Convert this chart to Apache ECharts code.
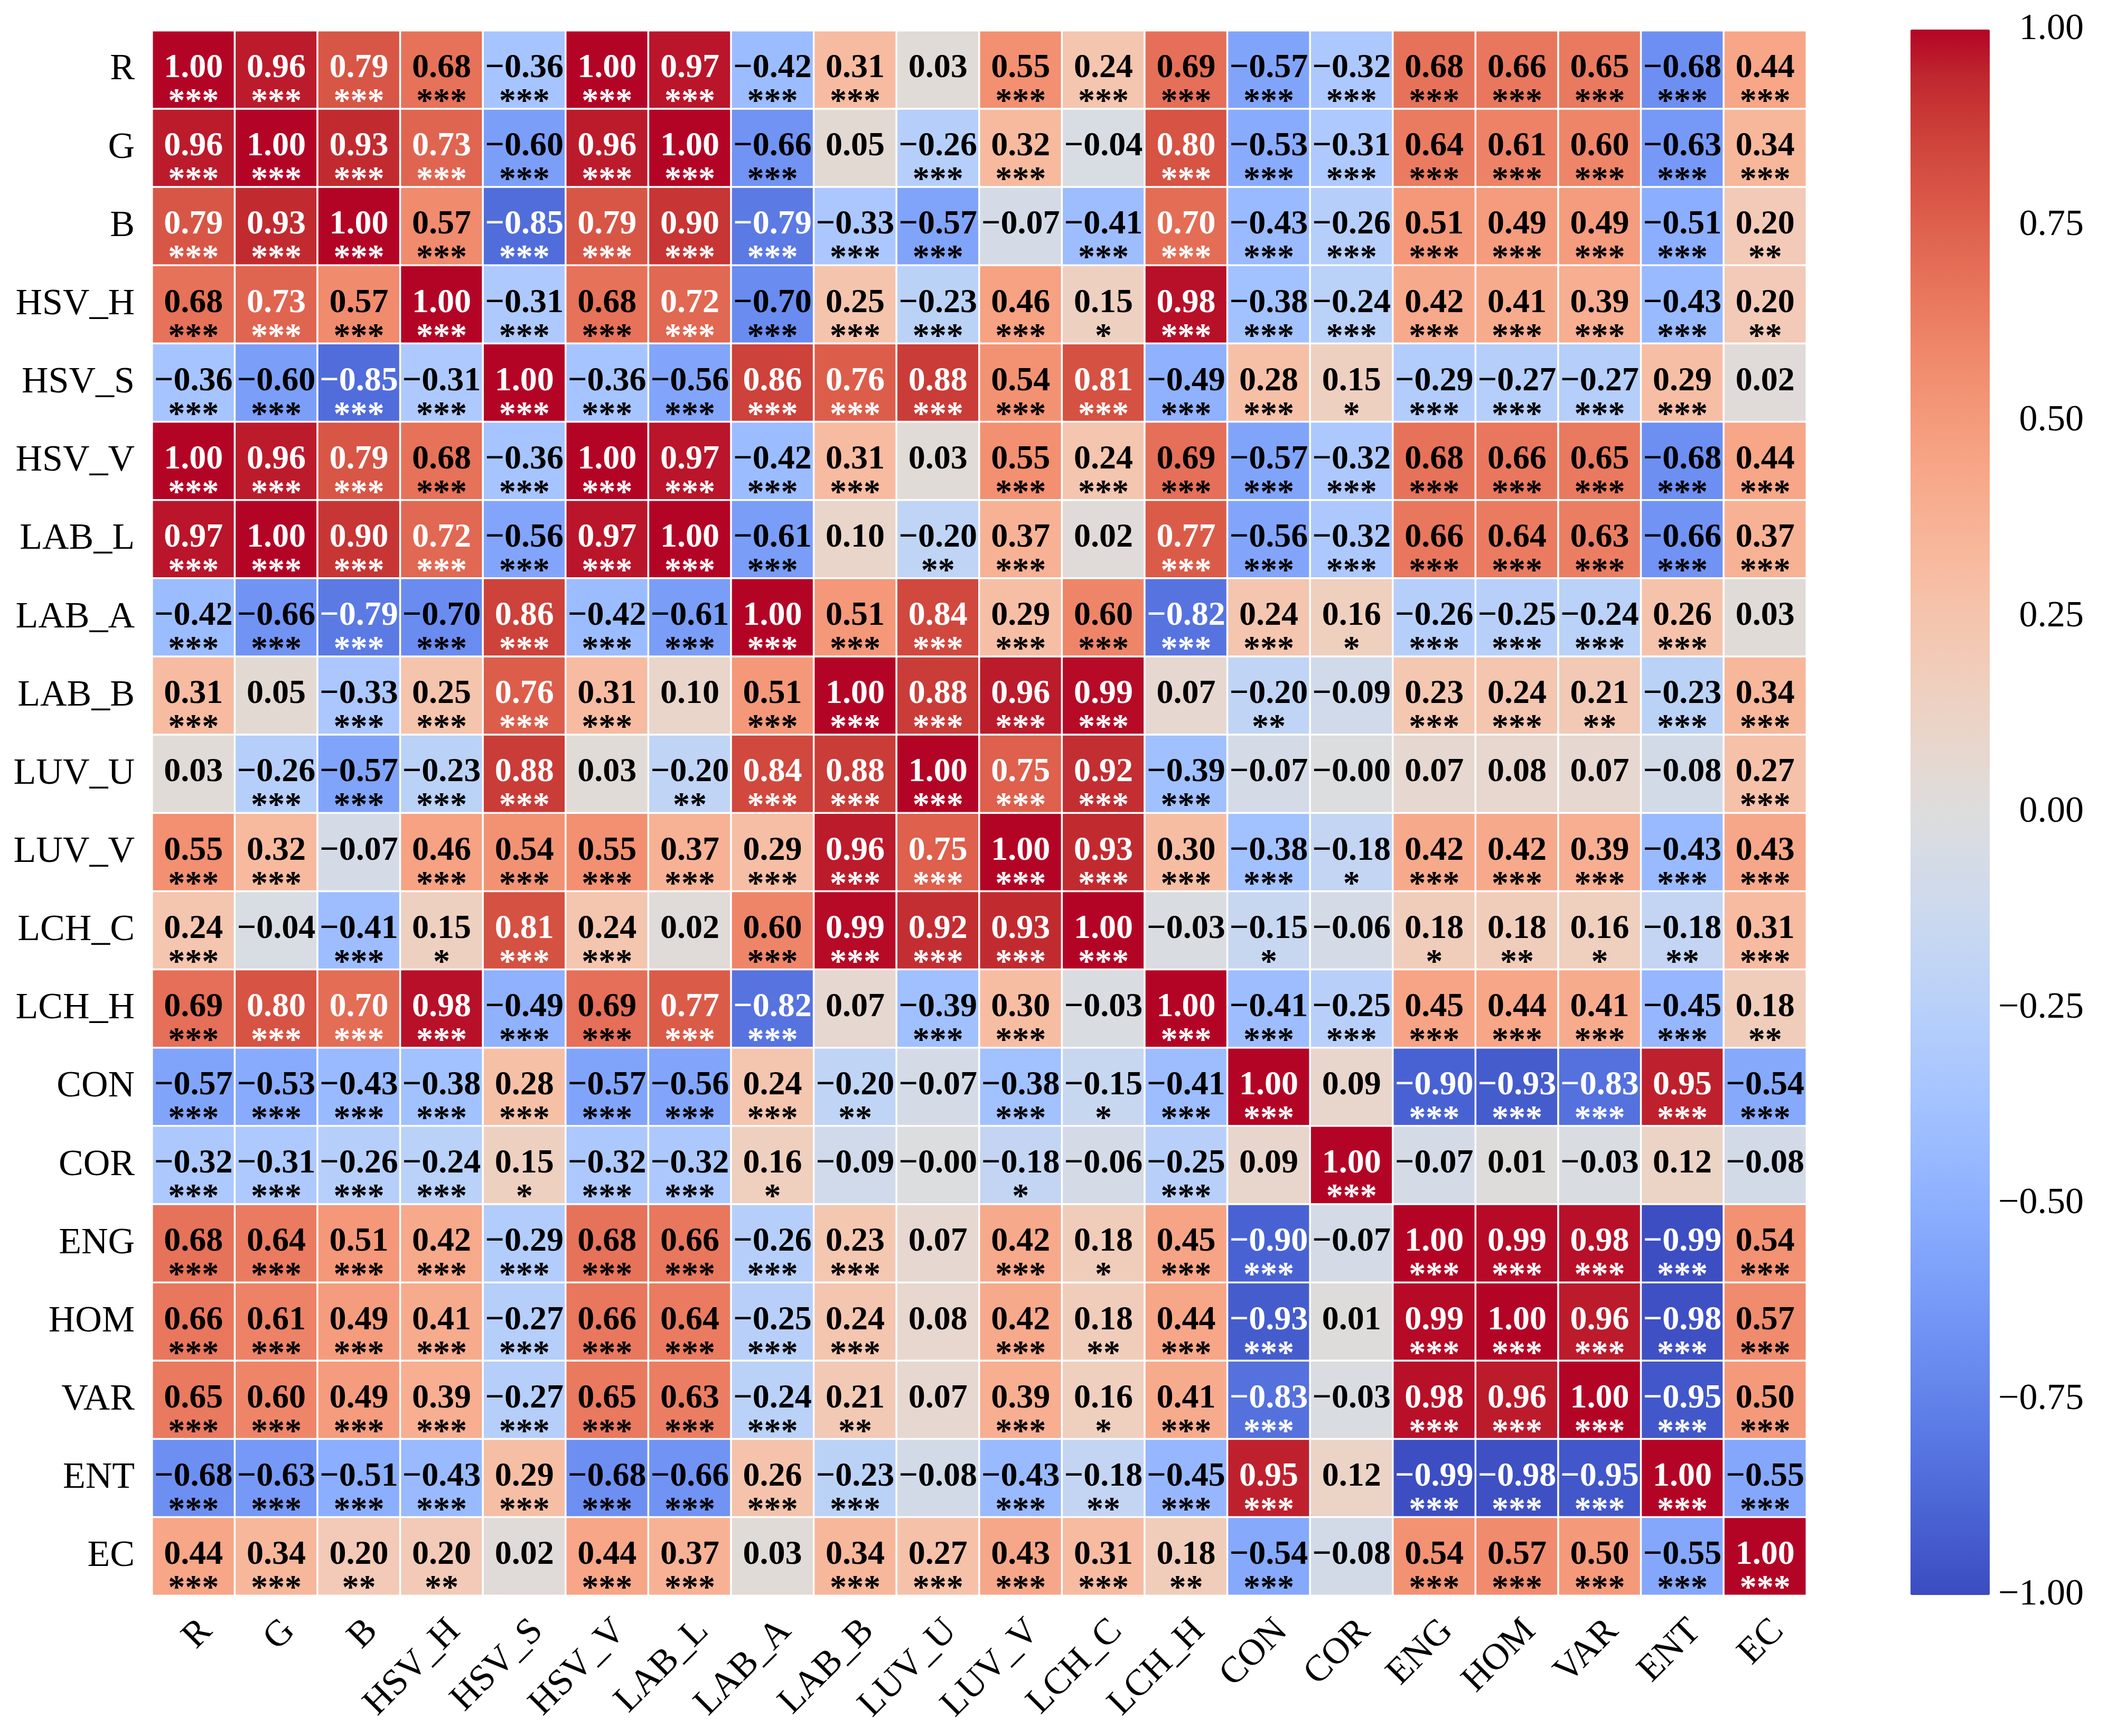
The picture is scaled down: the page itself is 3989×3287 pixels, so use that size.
<!DOCTYPE html>
<html>
<head>
<meta charset="utf-8">
<script src="https://cdn.jsdelivr.net/npm/echarts@6/dist/echarts.min.js"></script>
<style>
  html, body { margin: 0; padding: 0; background: #fff; }
  #main { width: 3989px; height: 3287px; }
</style>
</head>
<body>
<div id="main"></div>
<script>
const names = ['R', 'G', 'B', 'HSV_H', 'HSV_S', 'HSV_V', 'LAB_L', 'LAB_A', 'LAB_B', 'LUV_U',
  'LUV_V', 'LCH_C', 'LCH_H', 'CON', 'COR', 'ENG', 'HOM', 'VAR', 'ENT', 'EC'];

// correlation matrix, row by row (same order as names)
const corr = [
  [1.00, 0.96, 0.79, 0.68, -0.36, 1.00, 0.97, -0.42, 0.31, 0.03, 0.55, 0.24, 0.69, -0.57, -0.32, 0.68, 0.66, 0.65, -0.68, 0.44],
  [0.96, 1.00, 0.93, 0.73, -0.60, 0.96, 1.00, -0.66, 0.05, -0.26, 0.32, -0.04, 0.80, -0.53, -0.31, 0.64, 0.61, 0.60, -0.63, 0.34],
  [0.79, 0.93, 1.00, 0.57, -0.85, 0.79, 0.90, -0.79, -0.33, -0.57, -0.07, -0.41, 0.70, -0.43, -0.26, 0.51, 0.49, 0.49, -0.51, 0.20],
  [0.68, 0.73, 0.57, 1.00, -0.31, 0.68, 0.72, -0.70, 0.25, -0.23, 0.46, 0.15, 0.98, -0.38, -0.24, 0.42, 0.41, 0.39, -0.43, 0.20],
  [-0.36, -0.60, -0.85, -0.31, 1.00, -0.36, -0.56, 0.86, 0.76, 0.88, 0.54, 0.81, -0.49, 0.28, 0.15, -0.29, -0.27, -0.27, 0.29, 0.02],
  [1.00, 0.96, 0.79, 0.68, -0.36, 1.00, 0.97, -0.42, 0.31, 0.03, 0.55, 0.24, 0.69, -0.57, -0.32, 0.68, 0.66, 0.65, -0.68, 0.44],
  [0.97, 1.00, 0.90, 0.72, -0.56, 0.97, 1.00, -0.61, 0.10, -0.20, 0.37, 0.02, 0.77, -0.56, -0.32, 0.66, 0.64, 0.63, -0.66, 0.37],
  [-0.42, -0.66, -0.79, -0.70, 0.86, -0.42, -0.61, 1.00, 0.51, 0.84, 0.29, 0.60, -0.82, 0.24, 0.16, -0.26, -0.25, -0.24, 0.26, 0.03],
  [0.31, 0.05, -0.33, 0.25, 0.76, 0.31, 0.10, 0.51, 1.00, 0.88, 0.96, 0.99, 0.07, -0.20, -0.09, 0.23, 0.24, 0.21, -0.23, 0.34],
  [0.03, -0.26, -0.57, -0.23, 0.88, 0.03, -0.20, 0.84, 0.88, 1.00, 0.75, 0.92, -0.39, -0.07, -0.004, 0.07, 0.08, 0.07, -0.08, 0.27],
  [0.55, 0.32, -0.07, 0.46, 0.54, 0.55, 0.37, 0.29, 0.96, 0.75, 1.00, 0.93, 0.30, -0.38, -0.18, 0.42, 0.42, 0.39, -0.43, 0.43],
  [0.24, -0.04, -0.41, 0.15, 0.81, 0.24, 0.02, 0.60, 0.99, 0.92, 0.93, 1.00, -0.03, -0.15, -0.06, 0.18, 0.18, 0.16, -0.18, 0.31],
  [0.69, 0.80, 0.70, 0.98, -0.49, 0.69, 0.77, -0.82, 0.07, -0.39, 0.30, -0.03, 1.00, -0.41, -0.25, 0.45, 0.44, 0.41, -0.45, 0.18],
  [-0.57, -0.53, -0.43, -0.38, 0.28, -0.57, -0.56, 0.24, -0.20, -0.07, -0.38, -0.15, -0.41, 1.00, 0.09, -0.90, -0.93, -0.83, 0.95, -0.54],
  [-0.32, -0.31, -0.26, -0.24, 0.15, -0.32, -0.32, 0.16, -0.09, -0.004, -0.18, -0.06, -0.25, 0.09, 1.00, -0.07, 0.01, -0.03, 0.12, -0.08],
  [0.68, 0.64, 0.51, 0.42, -0.29, 0.68, 0.66, -0.26, 0.23, 0.07, 0.42, 0.18, 0.45, -0.90, -0.07, 1.00, 0.99, 0.98, -0.99, 0.54],
  [0.66, 0.61, 0.49, 0.41, -0.27, 0.66, 0.64, -0.25, 0.24, 0.08, 0.42, 0.18, 0.44, -0.93, 0.01, 0.99, 1.00, 0.96, -0.98, 0.57],
  [0.65, 0.60, 0.49, 0.39, -0.27, 0.65, 0.63, -0.24, 0.21, 0.07, 0.39, 0.16, 0.41, -0.83, -0.03, 0.98, 0.96, 1.00, -0.95, 0.50],
  [-0.68, -0.63, -0.51, -0.43, 0.29, -0.68, -0.66, 0.26, -0.23, -0.08, -0.43, -0.18, -0.45, 0.95, 0.12, -0.99, -0.98, -0.95, 1.00, -0.55],
  [0.44, 0.34, 0.20, 0.20, 0.02, 0.44, 0.37, 0.03, 0.34, 0.27, 0.43, 0.31, 0.18, -0.54, -0.08, 0.54, 0.57, 0.50, -0.55, 1.00]
];

// number of significance stars per cell
const stars = [
  [3, 3, 3, 3, 3, 3, 3, 3, 3, 0, 3, 3, 3, 3, 3, 3, 3, 3, 3, 3],
  [3, 3, 3, 3, 3, 3, 3, 3, 0, 3, 3, 0, 3, 3, 3, 3, 3, 3, 3, 3],
  [3, 3, 3, 3, 3, 3, 3, 3, 3, 3, 0, 3, 3, 3, 3, 3, 3, 3, 3, 2],
  [3, 3, 3, 3, 3, 3, 3, 3, 3, 3, 3, 1, 3, 3, 3, 3, 3, 3, 3, 2],
  [3, 3, 3, 3, 3, 3, 3, 3, 3, 3, 3, 3, 3, 3, 1, 3, 3, 3, 3, 0],
  [3, 3, 3, 3, 3, 3, 3, 3, 3, 0, 3, 3, 3, 3, 3, 3, 3, 3, 3, 3],
  [3, 3, 3, 3, 3, 3, 3, 3, 0, 2, 3, 0, 3, 3, 3, 3, 3, 3, 3, 3],
  [3, 3, 3, 3, 3, 3, 3, 3, 3, 3, 3, 3, 3, 3, 1, 3, 3, 3, 3, 0],
  [3, 0, 3, 3, 3, 3, 0, 3, 3, 3, 3, 3, 0, 2, 0, 3, 3, 2, 3, 3],
  [0, 3, 3, 3, 3, 0, 2, 3, 3, 3, 3, 3, 3, 0, 0, 0, 0, 0, 0, 3],
  [3, 3, 0, 3, 3, 3, 3, 3, 3, 3, 3, 3, 3, 3, 1, 3, 3, 3, 3, 3],
  [3, 0, 3, 1, 3, 3, 0, 3, 3, 3, 3, 3, 0, 1, 0, 1, 2, 1, 2, 3],
  [3, 3, 3, 3, 3, 3, 3, 3, 0, 3, 3, 0, 3, 3, 3, 3, 3, 3, 3, 2],
  [3, 3, 3, 3, 3, 3, 3, 3, 2, 0, 3, 1, 3, 3, 0, 3, 3, 3, 3, 3],
  [3, 3, 3, 3, 1, 3, 3, 1, 0, 0, 1, 0, 3, 0, 3, 0, 0, 0, 0, 0],
  [3, 3, 3, 3, 3, 3, 3, 3, 3, 0, 3, 1, 3, 3, 0, 3, 3, 3, 3, 3],
  [3, 3, 3, 3, 3, 3, 3, 3, 3, 0, 3, 2, 3, 3, 0, 3, 3, 3, 3, 3],
  [3, 3, 3, 3, 3, 3, 3, 3, 2, 0, 3, 1, 3, 3, 0, 3, 3, 3, 3, 3],
  [3, 3, 3, 3, 3, 3, 3, 3, 3, 0, 3, 2, 3, 3, 0, 3, 3, 3, 3, 3],
  [3, 3, 2, 2, 0, 3, 3, 0, 3, 3, 3, 3, 2, 3, 0, 3, 3, 3, 3, 3]
];

const cbarTicks = [-1, -0.75, -0.5, -0.25, 0, 0.25, 0.5, 0.75, 1];

// matplotlib coolwarm, 33 stops
const coolwarm = ['#3b4cc0', '#445acc', '#4d68d7', '#5775e1', '#6282ea', '#6c8ef1', '#779af7', '#82a5fb',
  '#8db0fe', '#98b9ff', '#a3c2ff', '#aec9fd', '#b8d0f9', '#c2d5f4', '#ccd9ee', '#d5dbe6', '#dddddd',
  '#e5d8d1', '#ecd3c5', '#f1ccb9', '#f5c4ad', '#f7bba0', '#f7b194', '#f7a687', '#f49a7b', '#f18d6f',
  '#ec7f63', '#e57058', '#de604d', '#d55042', '#cb3e38', '#c0282f', '#b40426'];

const FONT = '"Liberation Serif", "Times New Roman", serif';

const fmt = (v) => (v < 0 ? '\u2212' : '') + Math.abs(v).toFixed(2);

let heatData = [];
corr.forEach((row, i) => {
  row.forEach((v, j) => {
    heatData.push([j, i, v]);
  });
});

const textStyle = (color) => ({
  color: color,
  fontFamily: FONT,
  fontWeight: 'bold',
  fontSize: 64,
  lineHeight: 65
});

let myChart = echarts.init(document.getElementById('main'), null, { renderer: 'canvas' });

const option = {
  backgroundColor: '#ffffff',
  animation: false,
  grid: [
    { left: 288, top: 58, width: 3132, height: 2963 },
    { left: 3617, top: 56, width: 150, height: 2964 }
  ],
  xAxis: [{
    type: 'category',
    data: names,
    gridIndex: 0,
    axisLine: { show: false },
    axisTick: { show: false },
    splitLine: { show: false },
    axisLabel: {
      interval: 0,
      rotate: 45,
      align: 'right',
      verticalAlign: 'top',
      margin: 32,
      fontFamily: FONT,
      fontSize: 70,
      color: '#000'
    }
  }, {
    type: 'value',
    gridIndex: 1,
    show: false,
    min: 0,
    max: 1
  }],
  yAxis: [{
    type: 'category',
    data: names,
    inverse: true,
    gridIndex: 0,
    axisLine: { show: false },
    axisTick: { show: false },
    splitLine: { show: false },
    axisLabel: {
      interval: 0,
      margin: 33,
      padding: [0, 0, 16, 0],
      fontFamily: FONT,
      fontSize: 70,
      color: '#000'
    }
  }, {
    type: 'value',
    gridIndex: 1,
    position: 'right',
    min: -1,
    max: 1,
    interval: 0.25,
    axisLine: { show: false },
    axisTick: { show: false },
    splitLine: { show: false },
    axisLabel: {
      showMinLabel: true,
      showMaxLabel: true,
      align: 'right',
      margin: 178,
      padding: [0, 0, 10, 0],
      fontFamily: FONT,
      fontSize: 70,
      color: '#000',
      formatter: function (v) {
        return cbarTicks.indexOf(v) >= 0 ? fmt(v) : '';
      }
    }
  }],
  visualMap: {
    type: 'continuous',
    seriesIndex: 0,
    min: -1,
    max: 1,
    calculable: false,
    hoverLink: false,
    orient: 'vertical',
    left: 3617,
    top: 56,
    padding: 0,
    itemWidth: 150,
    itemHeight: 2964,
    text: null,
    inRange: { color: coolwarm }
  },
  series: [{
    type: 'heatmap',
    xAxisIndex: 0,
    yAxisIndex: 0,
    data: heatData,
    itemStyle: {
      borderColor: '#ffffff',
      borderWidth: 3.5
    },
    emphasis: { disabled: true },
    label: {
      show: true,
      offset: [0, 30],
      formatter: function (p) {
        const v = p.value[2];
        const n = stars[p.value[1]][p.value[0]];
        // white text on the dark ends of the colormap
        const light = v >= 0.695 || v <= -0.745;
        const a = light ? 'vw' : 'vb';
        const b = light ? 'sw' : 'sb';
        const s = n > 0 ? '*'.repeat(n) : '\u00a0';
        return '{' + a + '|' + fmt(v) + '}\n{' + b + '|' + s + '}';
      },
      rich: {
        vw: textStyle('#ffffff'),
        sw: textStyle('#ffffff'),
        vb: textStyle('#000000'),
        sb: textStyle('#000000')
      }
    }
  }, {
    type: 'scatter',
    xAxisIndex: 1,
    yAxisIndex: 1,
    data: [],
    silent: true
  }]
};

myChart.setOption(option, true);
</script>
</body>
</html>
